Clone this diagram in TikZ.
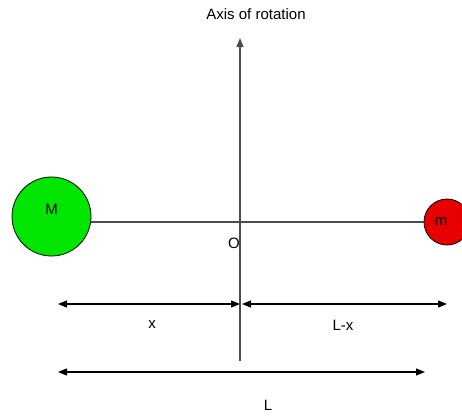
\documentclass[tikz,border=0pt]{standalone}
\usepackage{fontspec}
\setmainfont{Liberation Sans}
\usetikzlibrary{arrows.meta}

\begin{document}
\begin{tikzpicture}[x=1pt, y=-1pt, line width=1.2pt, >={Triangle[length=9pt,width=7pt]},
	lbl/.style={inner sep=0pt, font=\fontsize{15}{17}\selectfont},
	mass/.style={circle, draw=black, line width=0.8pt, inner sep=0pt}]
			\useasboundingbox (0,0) rectangle (462,415);

			% The two masses and the rod joining them.
			\node[mass, fill={rgb,255:red,0;green,230;blue,0}, minimum size=79pt] (M) at (51.5,216.5) {};
			\node[lbl] at (51.5,209) {M};
			\node[mass, fill={rgb,255:red,230;green,0;blue,0}, minimum size=46pt] (m) at (447,222) {};
			\node[lbl] at (441,221) {m};
			\coordinate (O) at (240,222);
			\draw[black!70] (M.east |- O) -- (m.west);

			% The axis of rotation through O.
			\coordinate (axbot) at (240,361);
			\coordinate (axtop) at (240,38);
			\draw[black!70, ->] (axbot) -- (axtop);
			\node[lbl] (axis) at (256,14) {Axis of rotation};
			\node[lbl] (olbl) at (234,243) {O};

			% Distances x and L-x.
			\coordinate (xa) at (58,304);
			\coordinate (xb) at (240,304);
			\coordinate (xc) at (242,304);
			\coordinate (xd) at (447,304);
			\draw[<->] (xa) -- (xb);
			\draw[<->] (xc) -- (xd);
			\node[lbl] (xlbl) at (152,325) {x};
			\node[lbl] (lxlbl) at (343,325) {L-x};

			% The whole length L.
			\coordinate (la) at (58,372);
			\coordinate (lb) at (425,372);
			\draw[<->] (la) -- (lb);
			\node[lbl] (llbl) at (268,405) {L};
		\end{tikzpicture}
\end{document}
